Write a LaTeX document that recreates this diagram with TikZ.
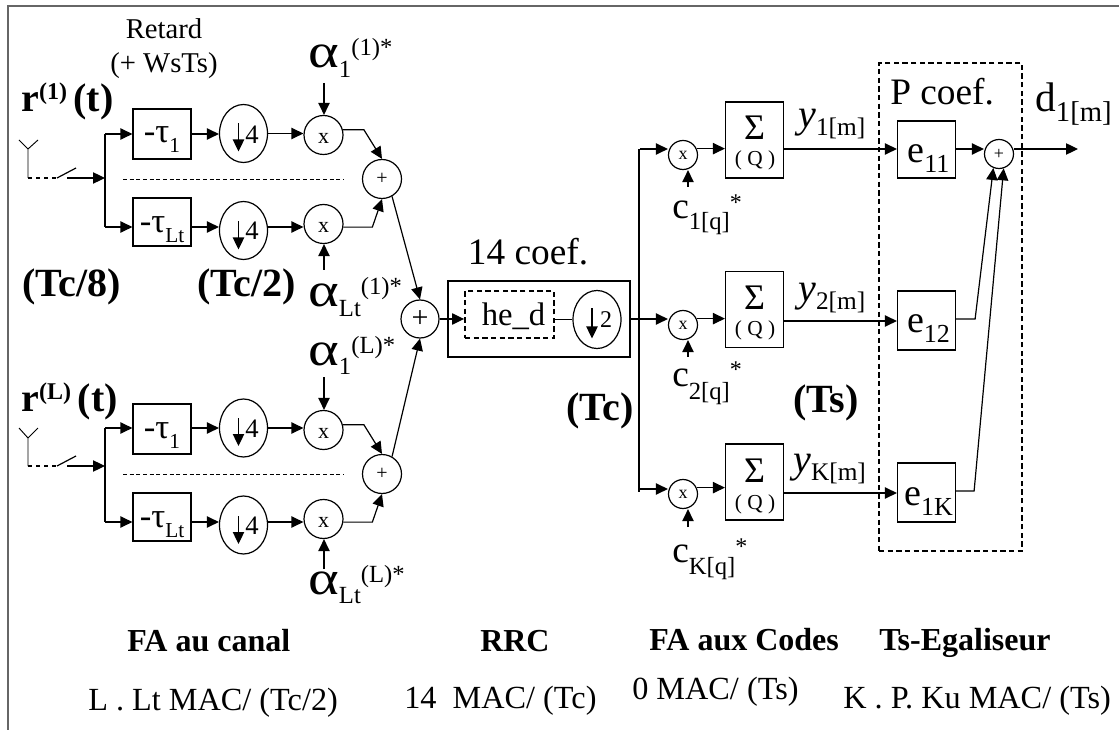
\documentclass[tikz,border=0pt]{standalone}
\usepackage{fontspec}
\setmainfont{Liberation Serif}
\usetikzlibrary{arrows.meta,shapes,positioning,calc}
\newcommand{\shifttxt}[3]{\raisebox{#1pt}{\fontsize{#2}{#2}\selectfont #3}}
\newcommand{\fsize}[1]{\fontsize{#1}{#1}\selectfont}
\newcommand{\alphaglyph}{\scalebox{1.22}[1]{α}}
\tikzset{
  sig/.style={-{Triangle[length=9pt,width=8.5pt]},line width=0.9pt},
  wire/.style={line width=0.9pt},
  txt/.style={inner sep=0pt,anchor=base west},
  boldtxt/.style={txt,font=\fsize{30}\bfseries},
  alphatxt/.style={txt,font=\fsize{36}},
  codetxt/.style={txt,font=\fsize{28}},
  qtxt/.style={inner sep=0pt,anchor=base,font=\fsize{16}},
  footbold/.style={txt,font=\fsize{24}\bfseries},
  foottxt/.style={txt,font=\fsize{24.2}},
  blockbox/.style={draw,rectangle,inner sep=0pt,line width=0.9pt,minimum width=43.5pt},
  tausbox/.style={blockbox,font=\fsize{26}},
  sigmabox/.style={blockbox,font=\fsize{27},text height=28.5pt,text depth=28.5pt},
  eqbox/.style={blockbox,font=\fsize{28.5}},
  downell/.style={draw,ellipse,inner sep=0pt,line width=0.9pt,minimum width=36pt,minimum height=43.5pt},
  numtxt/.style={inner sep=0pt,font=\fsize{20}},
  mulbig/.style={draw,circle,inner sep=0pt,line width=0.9pt,minimum size=29.25pt,font=\fsize{16.5},text height=12.5pt,text depth=0pt},
  mulsmall/.style={draw,circle,inner sep=0pt,line width=0.9pt,minimum size=21.75pt,font=\fsize{13.5}},
  sumsmall/.style={draw,circle,inner sep=0pt,line width=0.9pt,minimum size=29.25pt,font=\fsize{15}},
  dashbox/.style={draw,line width=1.4pt,dash pattern=on 4pt off 2.5pt},
}
\begin{document}
\begin{tikzpicture}[x=0.75pt,y=-0.75pt]
  \useasboundingbox (0,0) rectangle (1119,730);
  % Cadre
  \draw[black!60,line width=1.5pt] (8,730)--(8,6)--(1119,6);
  % Titres
  \node[font=\fsize{21.5},inner sep=0pt,anchor=base] (retard) at (164,39){Retard};
  \node[font=\fsize{21.5},inner sep=0pt,anchor=base] (wsts) at (164,73){(+ WsTs)};
  \node[boldtxt] (rA) at (21,112){r\shifttxt{9}{18}{(1)}\,(t)};
  \node[boldtxt] (rB) at (21,411){r\shifttxt{9}{18}{(L)}\,(t)};
  \node[boldtxt] (tcHuit) at (22,297){(Tc/8)};
  \node[boldtxt] (tcDeux) at (197,297){(Tc/2)};
  \node[boldtxt] (tc) at (566,420){(Tc)};
  \node[boldtxt] (ts) at (793,412){(Ts)};
  % Premiere antenne
  \coordinate (antA) at (28,149);
  \coordinate (antAb) at (28,178);
  \coordinate (swA) at (57,178);
  \coordinate (busA) at (105,178);
  \coordinate (busAt) at (105,134);
  \coordinate (busAb) at (105,227);
  \draw[wire,line width=0.7pt] (19,140)--(antA)--(38,140) (antA)--(antAb);
  \draw[wire,dashed] (antAb)--(swA);
  \draw[wire] (swA)--(76,168);
  \draw[sig] (67,178)--(busA);
  \draw[wire] (busAt)--(busAb);
  % Voie 1, canal 1
  \node[tausbox,text height=25.5pt,text depth=12pt] (tauA) at (162,134){-τ\shifttxt{-7.5}{16}{1}};
  \node[downell] (dsA) at (243.5,133.5){};
  \node[numtxt] (nA) at (252,135){4};
  \node[mulbig] (mulA) at (323.5,135){x};
  \node[tausbox,text height=26pt,text depth=10pt] (tauB) at (162,222){-τ\shifttxt{-7.5}{16}{Lt}};
  \node[downell] (dsB) at (243.5,230.5){};
  \node[numtxt] (nB) at (252,231){4};
  \node[mulbig] (mulB) at (323.5,224){x};
  \node[sumsmall] (sumA) at (382,179){+};
  \draw[sig] (busAt)--(tauA.west);
  \draw[sig] (busAb)--(busAb -| tauB.west);
  \draw[sig] (tauA.east)--(tauA.east -| dsA.west);
  \draw[sig] (busAb -| tauB.east)--(busAb -| dsB.west);
  \draw[sig] (dsA.east)--(dsA.east -| mulA.west);
  \draw[sig] (busAb -| dsB.east)--(busAb -| mulB.west);
  \draw[sig] ($(dsA)+(-5,-10)$)--($(dsA)+(-5,18)$);
  \draw[sig] ($(dsB)+(-5,-9)$)--($(dsB)+(-5,19)$);
  \draw[sig] (mulA.15)--++(21,0)--(sumA.north);
  \draw[sig] (mulB.-9)--++(29,0)--(sumA.south);
  \draw[wire,densely dashed,line width=0.7pt] (123,179)--(344,179);
  \node[alphatxt] (alphaA) at (308,68){\alphaglyph\shifttxt{-7}{18.5}{1}\shifttxt{9}{18.5}{(1)*}};
  \node[alphatxt] (alphaB) at (308,307){\alphaglyph\shifttxt{-7}{18.5}{Lt}\shifttxt{9}{18.5}{(1)*}};
  \coordinate (inA) at (324,83);
  \coordinate (inB) at (324,270);
  \draw[sig] (inA)--(inA |- mulA.north);
  \draw[sig] (inB)--(inB |- mulB.south);
  % Deuxieme antenne
  \coordinate (antB) at (28,438);
  \coordinate (antBb) at (28,466);
  \coordinate (swB) at (57,466);
  \coordinate (busB) at (105,466);
  \coordinate (busBt) at (105,428);
  \coordinate (busBb) at (105,522);
  \draw[wire,line width=0.7pt] (19,428)--(antB)--(38,428) (antB)--(antBb);
  \draw[wire,dashed] (antBb)--(swB);
  \draw[wire] (swB)--(76,456);
  \draw[sig] (67,466)--(busB);
  \draw[wire] (busBt)--(busBb);
  % Voie L
  \node[tausbox,text height=25.5pt,text depth=12pt] (tauC) at (162,429){-τ\shifttxt{-7.5}{16}{1}};
  \node[downell] (dsC) at (243.5,428){};
  \node[numtxt] (nC) at (252,429){4};
  \node[mulbig] (mulC) at (323.5,430){x};
  \node[tausbox,text height=26pt,text depth=10pt] (tauD) at (162,517){-τ\shifttxt{-7.5}{16}{Lt}};
  \node[downell] (dsD) at (243.5,525){};
  \node[numtxt] (nD) at (252,526){4};
  \node[mulbig] (mulD) at (323.5,519){x};
  \node[sumsmall] (sumB) at (382,474){+};
  \draw[sig] (busBt)--(busBt -| tauC.west);
  \draw[sig] (busBb)--(busBb -| tauD.west);
  \draw[sig] (busBt -| tauC.east)--(busBt -| dsC.west);
  \draw[sig] (busBb -| tauD.east)--(busBb -| dsD.west);
  \draw[sig] (dsC.east)--(dsC.east -| mulC.west);
  \draw[sig] (busBb -| dsD.east)--(busBb -| mulD.west);
  \draw[sig] ($(dsC)+(-5,-10)$)--($(dsC)+(-5,18)$);
  \draw[sig] ($(dsD)+(-5,-9)$)--($(dsD)+(-5,19)$);
  \draw[sig] (mulC.15)--++(21,0)--(sumB.north);
  \draw[sig] (mulD.-9)--++(29,0)--(sumB.south);
  \draw[wire,densely dashed,line width=0.7pt] (123,474)--(344,474);
  \node[alphatxt] (alphaC) at (308,365){\alphaglyph\shifttxt{-7}{18.5}{1}\shifttxt{9}{18.5}{(L)*}};
  \node[alphatxt] (alphaD) at (308,594){\alphaglyph\shifttxt{-7}{18.5}{Lt}\shifttxt{9}{18.5}{(L)*}};
  \coordinate (inC) at (324,377);
  \coordinate (inD) at (324,569);
  \draw[sig] (inC)--(inC |- mulC.north);
  \draw[sig] (inD)--(inD |- mulD.south);
  % Somme et RRC
  \node[draw,circle,inner sep=0pt,line width=0.9pt,minimum size=28.5pt,font=\fsize{22.5}] (sumAll) at (420,319){+};
  \node[blockbox,minimum width=136.5pt,minimum height=57pt] (rrc) at (539,319){};
  \node[dashbox,inner sep=0pt,minimum width=66.75pt,font=\fsize{24.5},text height=26.25pt,text depth=9pt] (hed) at (509.5,314.5){\hspace*{6pt}he\_d};
  \node[downell] (dsE) at (597,319.5){};
  \node[numtxt,font=\fsize{18}] (nE) at (606,320){2};
  \node[font=\fsize{28},inner sep=0pt,anchor=base] (coefA) at (528,265){14 coef.};
  \draw[sig] (sumA.-60)--(sumAll.north);
  \draw[sig] (sumB.60)--(sumAll.south);
  \draw[sig] (sumAll.east)--(sumAll.east -| hed.west);
  \draw[wire] (dsE.west -| hed.east)--(dsE.west);
  \draw[sig] ($(dsE)+(-5,-11)$)--($(dsE)+(-5,19)$);
  % Voies des codes
  \coordinate (rowA) at (640,149);
  \coordinate (rowB) at (640,319);
  \coordinate (rowC) at (640,489);
  \coordinate (rowBy) at (640,321);
  \coordinate (rowCy) at (640,493);
  \coordinate (rowCe) at (640,491);
  \draw[wire] (639,149)--(639,492);
  \node[mulsmall] (mulK) at (683,155){x};
  \node[mulsmall] (mulL) at (683,325){x};
  \node[mulsmall] (mulM) at (683,494){x};
  \node[sigmabox] (sigK) at (754.5,140){Σ};
  \node[sigmabox] (sigL) at (754.5,309.5){Σ};
  \node[sigmabox] (sigM) at (754.5,482){Σ};
  \node[qtxt] (qK) at (755,166){( Q )};
  \node[qtxt] (qL) at (755,336){( Q )};
  \node[qtxt] (qM) at (755,509){( Q )};
  \draw[sig] (rowA)--(rowA -| mulK.west);
  \draw[sig] (rrc.east)--(rrc.east -| mulL.west);
  \draw[sig] (rowC)--(rowC -| mulM.west);
  \draw[sig] (mulK.25)--(mulK.25 -| sigK.west);
  \draw[sig] (mulL.25)--(mulL.25 -| sigL.west);
  \draw[sig] (mulM.25)--(mulM.25 -| sigM.west);
  \coordinate (inK) at (688,187);
  \coordinate (inL) at (688,357);
  \coordinate (inM) at (688,527);
  \draw[sig] (inK)--(inK |- mulK.south);
  \draw[sig] (inL)--(inL |- mulL.south);
  \draw[sig] (inM)--(inM |- mulM.south);
  \node[codetxt] (cK) at (672,219){c\shifttxt{-8}{18.5}{1[q]}\shifttxt{6}{18}{*}};
  \node[codetxt] (cL) at (672,386){c\shifttxt{-10}{18.5}{2[q]}\shifttxt{6}{18}{*}};
  \node[codetxt] (cM) at (672,562){c\shifttxt{-9}{18.5}{K[q]}\shifttxt{6}{18}{*}};
  \node[txt,font=\fsize{30}] (yK) at (798,128){\textit{y}\shifttxt{-6}{19}{1[m]}};
  \node[txt,font=\fsize{30}] (yL) at (798,302){\textit{y}\shifttxt{-6}{19}{2[m]}};
  \node[txt,font=\fsize{30}] (yM) at (793,472){\textit{y}\shifttxt{-6.5}{19}{K[m]}};
  % Egaliseur
  \node[dashbox,rectangle,inner sep=0pt,minimum width=107.25pt,minimum height=366pt] (eqz) at (950.5,307){};
  \node[font=\fsize{28},inner sep=0pt,anchor=base west] (coefB) at (890,105){P coef.};
  \node[eqbox,text height=31.5pt,text depth=11.25pt] (eqK) at (926.5,149.5){\hspace*{3pt}e\shifttxt{-7.5}{19.5}{11}};
  \node[eqbox,text height=31.5pt,text depth=12.75pt] (eqL) at (926.5,320.5){\hspace*{3pt}e\shifttxt{-7.5}{19.5}{12}};
  \node[eqbox,text height=31.5pt,text depth=12.75pt] (eqM) at (926.5,492.5){\hspace*{3pt}e\shifttxt{-8}{19.5}{1K}};
  \node[mulsmall] (sumEq) at (999,154){+};
  \coordinate (outD) at (1078,149);
  \draw[sig] (rowA -| sigK.east)--(rowA -| eqK.west);
  \draw[sig] (rowBy -| sigL.east)--(rowBy -| eqL.west);
  \draw[sig] (rowCy -| sigM.east)--(rowCy -| eqM.west);
  \draw[sig] (rowA -| eqK.east)--(rowA -| sumEq.west);
  \draw[sig] (rowB -| eqL.east)--++(19,0)--(sumEq.-112);
  \draw[sig] (rowCe -| eqM.east)--++(18,0)--(sumEq.-72);
  \draw[sig] (rowA -| sumEq.east)--(outD);
  \node[txt,font=\fsize{31}] (dOut) at (1035,112){d\shifttxt{-7.5}{21.5}{1[m]}};
  % Bilan
  \node[footbold] (fA) at (127,651){FA au canal};
  \node[footbold] (fB) at (480,651){RRC};
  \node[footbold] (fC) at (649,650){FA aux Codes};
  \node[footbold] (fD) at (879,650){Ts-Egaliseur};
  \node[foottxt] (mA) at (88,710){L . Lt MAC/ (Tc/2)};
  \node[foottxt] (mB) at (404,708){14\ \ MAC/ (Tc)};
  \node[foottxt] (mC) at (632,699){0 MAC/ (Ts)};
  \node[foottxt] (mD) at (843,708){K . P. Ku MAC/ (Ts)};
\end{tikzpicture}
\end{document}
